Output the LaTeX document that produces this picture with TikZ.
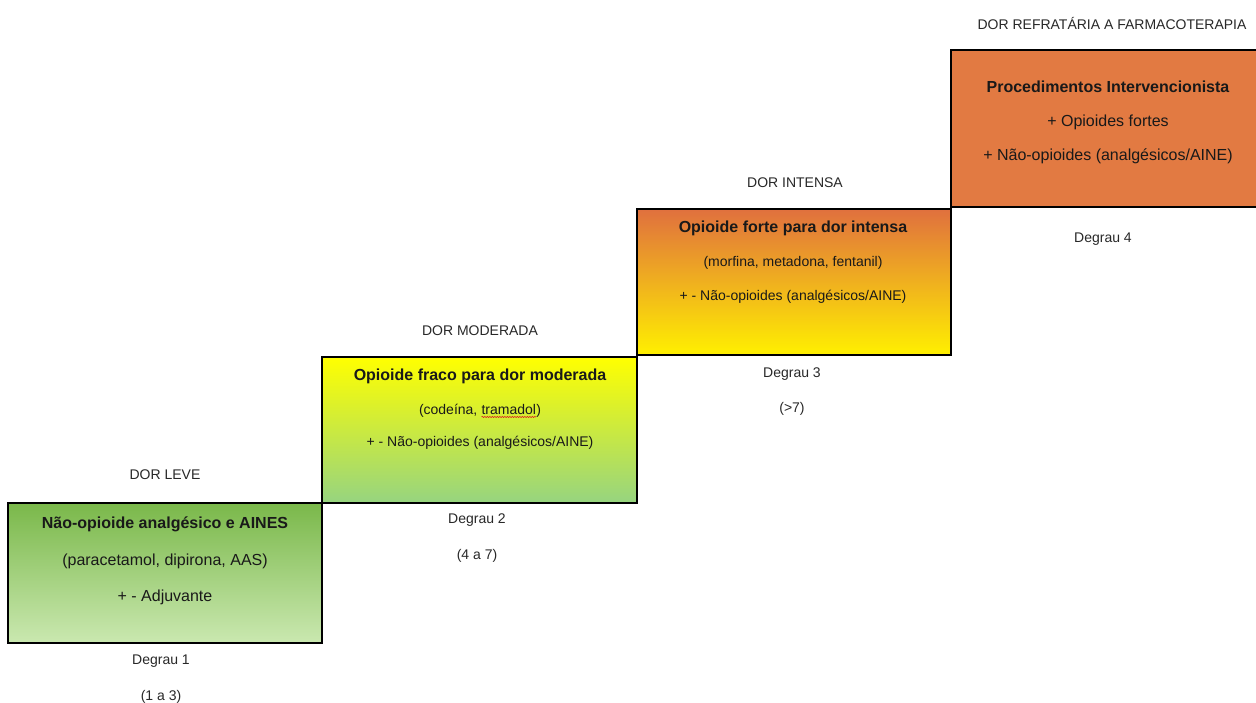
\documentclass[tikz,border=0pt]{standalone}
\usepackage{fontspec}
\setmainfont{Liberation Sans}
\usetikzlibrary{decorations.pathmorphing}
\definecolor{txtc}{RGB}{25,25,25}
\definecolor{lblc}{RGB}{40,40,40}
\definecolor{gTop}{RGB}{122,184,74}
\definecolor{gBot}{RGB}{202,232,176}
\definecolor{yTop}{RGB}{255,255,0}
\definecolor{yMid}{RGB}{210,238,70}
\definecolor{yBot}{RGB}{150,212,128}
\definecolor{oTop}{RGB}{224,112,62}
\definecolor{oMid}{RGB}{255,168,10}
\definecolor{oBot}{RGB}{255,240,0}
\definecolor{rFill}{RGB}{226,122,66}
\definecolor{wavec}{RGB}{220,30,30}
\newcommand\wavetxt[1]{\tikz[baseline=(w.base)]{\node[inner sep=0pt, outer sep=0pt, anchor=base, shape=rectangle, draw=none, fill=none] (w) {#1};
  \draw[wavec, line width=0.6pt, decorate, decoration={snake, amplitude=0.6pt, segment length=2.5pt}] ([yshift=-2.5pt]w.base west) -- ([yshift=-2.5pt]w.base east);}}
\begin{document}
\begin{tikzpicture}[x=1pt,y=-1pt,
  stepbox/.style={draw=black, line width=2pt, rectangle, inner sep=0pt},
  ttl/.style={font=\fontsize{16}{18}\selectfont\bfseries, text=txtc, inner sep=0pt, anchor=center},
  bodyL/.style={font=\fontsize{16}{18}\selectfont, text=txtc, inner sep=0pt, anchor=center},
  bodyS/.style={font=\fontsize{14}{16}\selectfont, text=txtc, inner sep=0pt, anchor=center},
  lbl/.style={font=\fontsize{14}{16}\selectfont, text=lblc, inner sep=0pt, anchor=center}
]
\useasboundingbox (0,0) rectangle (1256,703);
\fill[white] (0,0) rectangle (1256,703);

% boxes
\node[stepbox, top color=gTop, bottom color=gBot, minimum width=314pt, minimum height=140pt] (b1) at (165,573) {};
\node[stepbox, top color=yTop, middle color=yMid, bottom color=yBot, minimum width=315pt, minimum height=146pt] (b2) at (479.5,430) {};
\node[stepbox, top color=oTop, middle color=oMid, bottom color=oBot, minimum width=314pt, minimum height=146pt] (b3) at (794,282) {};
\node[stepbox, fill=rFill, minimum width=311pt, minimum height=157pt] (b4) at (1106.5,128.5) {};

% box 1
\node[ttl] (t1a) at (165,524) {Não-opioide analgésico e AINES};
\node[bodyL] (t1b) at (165,561) {(paracetamol, dipirona, AAS)};
\node[bodyL] (t1c) at (165,597) {+ - Adjuvante};

% box 2
\node[ttl] (t2a) at (480,376) {Opioide fraco para dor moderada};
\node[bodyS] (t2b) at (480,411) {(codeína, \wavetxt{tramadol})};
\node[bodyS] (t2c) at (480,443) {+ - Não-opioides (analgésicos/AINE)};

% box 3
\node[ttl] (t3a) at (793,228) {Opioide forte para dor intensa};
\node[bodyS] (t3b) at (793,263) {(morfina, metadona, fentanil)};
\node[bodyS] (t3c) at (793,297) {+ - Não-opioides (analgésicos/AINE)};

% box 4
\node[ttl] (t4a) at (1108,87) {Procedimentos Intervencionista};
\node[bodyL] (t4b) at (1108,122) {+ Opioides fortes};
\node[bodyL] (t4c) at (1108,156) {+ Não-opioides (analgésicos/AINE)};

% labels above
\node[lbl] (h1) at (165,475) {DOR LEVE};
\node[lbl] (h2) at (480,331) {DOR MODERADA};
\node[lbl] (h3) at (795,183) {DOR INTENSA};
\node[lbl] (h4) at (1112,24) {DOR REFRATÁRIA A FARMACOTERAPIA};

% labels below
\node[lbl] (d1) at (161,661) {Degrau 1};
\node[lbl] (s1) at (161,697) {(1 a 3)};
\node[lbl] (d2) at (477,520) {Degrau 2};
\node[lbl] (s2) at (477,556) {(4 a 7)};
\node[lbl] (d3) at (792,374) {Degrau 3};
\node[lbl] (s3) at (792,409) {(>7)};
\node[lbl] (d4) at (1103,239) {Degrau 4};
\end{tikzpicture}
\end{document}
